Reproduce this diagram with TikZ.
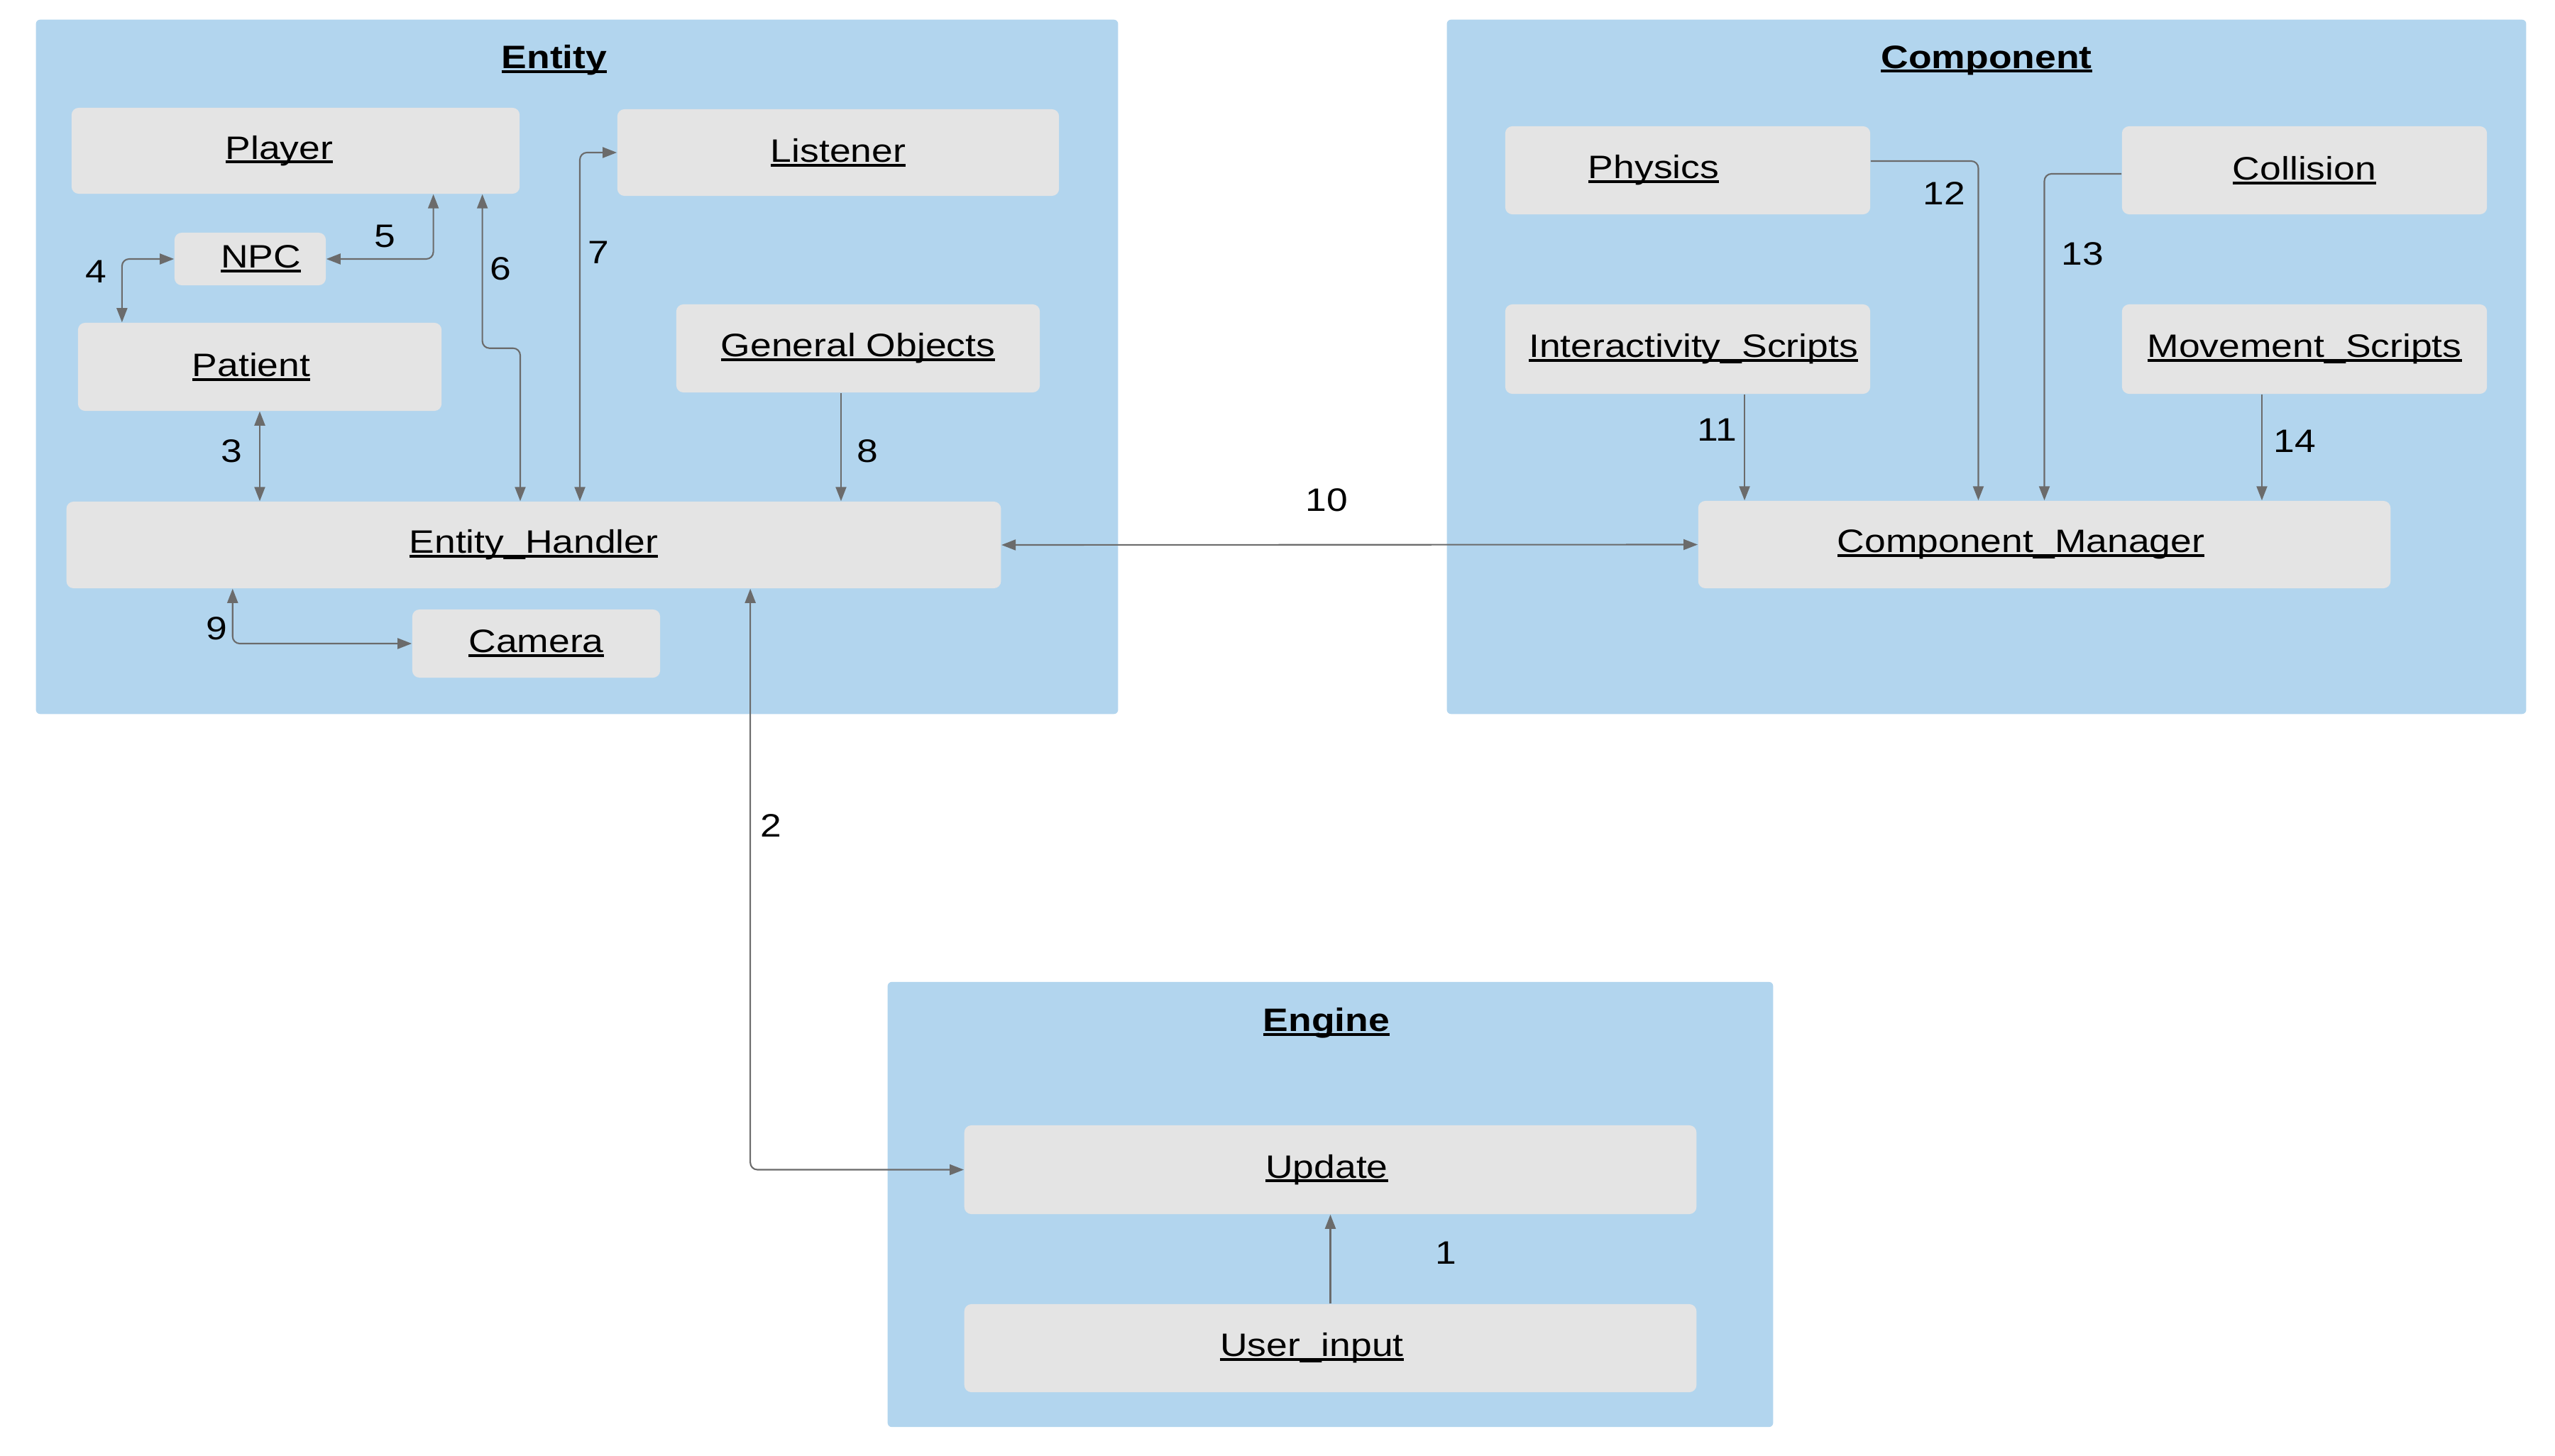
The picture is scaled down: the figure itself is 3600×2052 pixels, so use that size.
\documentclass[tikz,border=0pt]{standalone}
\usepackage{fontspec}
\setmainfont{Liberation Sans}[FakeStretch=1.17]
\usepackage{xcolor}
\usepackage{tikz}
\usetikzlibrary{arrows.meta}
\definecolor{panelblue}{HTML}{B2D5EE}
\definecolor{boxgray}{HTML}{E4E4E4}
\definecolor{linkgray}{HTML}{6B6B6B}
\newcommand{\uln}[1]{\setbox0\hbox{#1}\rlap{\rule[-1.7pt]{\wd0}{1.1pt}}\box0}
\tikzstyle{panel} = [fill=panelblue,rounded corners=0.06cm,inner sep=0pt]
\tikzstyle{box} = [fill=boxgray,rounded corners=0.1cm,inner sep=0pt,align=center]
\tikzstyle{link} = [color=linkgray,line width=0.6pt,rounded corners=0.1cm,-{Triangle[length=0.2cm,width=0.15cm]}]
\tikzstyle{dlink} = [link,{Triangle[length=0.2cm,width=0.15cm]}-{Triangle[length=0.2cm,width=0.15cm]}]

\begin{document}
\begin{tikzpicture}[x=0.01cm,y=-0.01cm,font=\fontsize{13}{15.6}\selectfont]
            \useasboundingbox (0,0) rectangle (3600,2052);
            % panels
            \node[panel,minimum width=15.24cm,minimum height=9.78cm] (entity) at (813,517) {};
            \node[panel,minimum width=15.20cm,minimum height=9.78cm] (component) at (2799,517) {};
            \node[panel,minimum width=12.47cm,minimum height=6.27cm] (engine) at (1874.5,1697.5) {};
            \node (entitytitle) at (781,85) {\uln{\textbf{Entity}}};
            \node (componenttitle) at (2799,85) {\uln{\textbf{Component}}};
            \node (enginetitle) at (1869,1442) {\uln{\textbf{Engine}}};
            % entity boxes
            \node[box,minimum width=6.31cm,minimum height=1.21cm] (player) at (416.5,212.5) {\uln{Player}\kern0.46cm};
            \node[box,minimum width=6.22cm,minimum height=1.22cm] (listener) at (1181,215) {\uln{Listener}};
            \node[box,minimum width=2.13cm,minimum height=0.74cm] (npc) at (352.5,365) {\kern0.30cm\uln{NPC}};
            \node[box,minimum width=5.12cm,minimum height=1.24cm] (patient) at (366,517) {\uln{Patient}\kern0.24cm};
            \node[box,minimum width=5.12cm,minimum height=1.24cm] (genobj) at (1209,491) {\uln{General Objects}};
            \node[box,minimum width=13.16cm,minimum height=1.22cm] (handler) at (752,768) {\uln{Entity\_Handler}};
            \node[box,minimum width=3.49cm,minimum height=0.96cm] (camera) at (755.5,907) {\uln{Camera}};
            % component boxes
            \node[box,minimum width=5.14cm,minimum height=1.24cm] (physics) at (2378,240) {\uln{Physics}\kern0.96cm};
            \node[box,minimum width=5.14cm,minimum height=1.24cm] (collision) at (3247,240) {\uln{Collision}};
            \node[box,minimum width=5.14cm,minimum height=1.26cm] (interact) at (2378,492) {\kern0.16cm\uln{Interactivity\_Scripts}};
            \node[box,minimum width=5.14cm,minimum height=1.26cm] (movement) at (3247,492) {\uln{Movement\_Scripts}};
            \node[box,minimum width=9.75cm,minimum height=1.23cm] (manager) at (2880.5,767.5) {\uln{Component\_Manager}\kern0.66cm};
            % engine boxes
            \node[box,minimum width=10.31cm,minimum height=1.25cm] (update) at (1874.5,1648.5) {\uln{Update}\kern0.1cm};
            \node[box,minimum width=10.31cm,minimum height=1.24cm] (userinput) at (1874.5,1900) {\uln{User\_input}\kern0.52cm};
            % links
            \draw[link] (userinput.north) -- (update.south);
            \draw[dlink] ([xshift=3.05cm]handler.south) |- (update.west);
            \draw[dlink] (patient.south) -- (patient.south |- handler.north);
            \draw[dlink] (npc.west) -| ([xshift=-1.94cm]patient.north);
            \draw[dlink] ([xshift=1.94cm]player.south) |- (npc.east);
            \draw[dlink] ([xshift=2.63cm]player.south) -- ++(0,217) -| ([xshift=-0.19cm]handler.north);
            \draw[dlink] ([xshift=0.65cm]handler.north) |- (listener.west);
            \draw[link] ([xshift=-0.24cm]genobj.south) -- ([xshift=-0.24cm]genobj.south |- handler.north);
            \draw[dlink] ([xshift=-4.24cm]handler.south) |- (camera.west);
            \draw[dlink] (handler.east) -- (manager.west);
            \draw[link] ([xshift=0.80cm]interact.south) -- ([xshift=0.80cm]interact.south |- manager.north);
            \draw[link] ([yshift=0.13cm]physics.east) -| ([xshift=-0.93cm]manager.north);
            \draw[link] ([yshift=-0.05cm]collision.west) -| (manager.north);
            \draw[link] ([xshift=-0.60cm]movement.south) -- ([xshift=-0.60cm]movement.south |- manager.north);
            % link numbers
            \node (l1) at (2037,1766) {1};
            \node (l2) at (1086,1164) {2};
            \node (l3) at (326,636) {3};
            \node (l4) at (135,383) {4};
            \node (l5) at (542,333) {5};
            \node (l6) at (705,379) {6};
            \node (l7) at (843,356) {7};
            \node (l8) at (1222,636) {8};
            \node (l9) at (305,886) {9};
            \node (l10) at (1869,705) {10};
            \node (l11) at (2419,606) {11};
            \node (l12) at (2739,273) {12};
            \node (l13) at (2934,358) {13};
            \node (l14) at (3233,622) {14};
\end{tikzpicture}
\end{document}
